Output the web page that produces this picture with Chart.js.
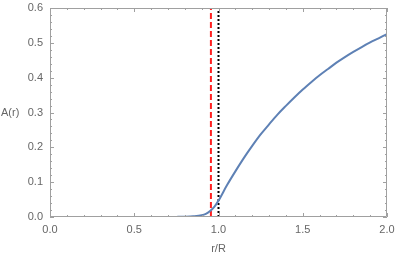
<!DOCTYPE html>
<html>
<head>
<meta charset="utf-8">
<script src="https://cdn.jsdelivr.net/npm/chart.js@4/dist/chart.umd.min.js"></script>
<style>
  html, body { margin: 0; padding: 0; background: #fff; }
  #wrap { width: 397px; height: 260px; }
</style>
</head>
<body>
<div id="wrap"><canvas id="myChart"></canvas></div>
<script>
// r/R sample points and A(r)
var rValues = [0, 0.05, 0.1, 0.15, 0.2, 0.25, 0.3, 0.35, 0.4, 0.45, 0.5, 0.55, 0.6, 0.65, 0.7,
  0.75, 0.8, 0.85, 0.9, 0.925, 0.95, 0.975, 1.0, 1.05, 1.1, 1.15, 1.2, 1.25, 1.3, 1.35, 1.4, 1.45,
  1.5, 1.55, 1.6, 1.65, 1.7, 1.75, 1.8, 1.85, 1.9, 1.95, 2.0];
var aValues = [0, 0, 0, 0, 0, 0, 0, 0, 0, 0, 0, 0, 0, 0, 0,
  0.0003, 0.0008, 0.002, 0.005, 0.009, 0.017, 0.029, 0.047, 0.091, 0.131, 0.169, 0.204, 0.237, 0.266, 0.294, 0.319, 0.343,
  0.366, 0.387, 0.407, 0.425, 0.443, 0.459, 0.474, 0.488, 0.501, 0.513, 0.525];

// vertical marker lines
var redLineX = 0.955;
var dotLineX = 1.0;

// ticks
var xMajor = [0, 0.5, 1.0, 1.5, 2.0];
var xMinor = [0.1, 0.2, 0.3, 0.4, 0.6, 0.7, 0.8, 0.9, 1.1, 1.2, 1.3, 1.4, 1.6, 1.7, 1.8, 1.9];
var yMajor = [0, 0.1, 0.2, 0.3, 0.4, 0.5, 0.6];
var yMinor = [0.02, 0.04, 0.06, 0.08, 0.12, 0.14, 0.16, 0.18, 0.22, 0.24, 0.26, 0.28,
  0.32, 0.34, 0.36, 0.38, 0.42, 0.44, 0.46, 0.48, 0.52, 0.54, 0.56, 0.58];

var frameColor = '#a0a0a0';
var labelColor = '#666666';
var fontFamily = '"Liberation Sans", Arial, sans-serif';

var curve = rValues.map(function (r, i) { return { x: r, y: aValues[i] }; });

// frame with inward ticks on all four sides, plus horizontal y title
var framePlugin = {
  id: 'frame',
  afterDatasetsDraw: function (chart) {
    var ctx = chart.ctx;
    var a = chart.chartArea;
    var xs = chart.scales.x, ys = chart.scales.y;
    ctx.save();
    ctx.strokeStyle = frameColor;
    ctx.lineWidth = 1;
    ctx.beginPath();
    ctx.rect(a.left + 0.5, a.top + 0.5, a.right - a.left - 1, a.bottom - a.top - 1);
    ctx.stroke();

    function xTick(v, len) {
      var px = Math.round(xs.getPixelForValue(v)) + 0.5;
      ctx.moveTo(px, a.bottom); ctx.lineTo(px, a.bottom - len);
      ctx.moveTo(px, a.top); ctx.lineTo(px, a.top + len);
    }
    function yTick(v, len) {
      var py = Math.round(ys.getPixelForValue(v)) + 0.5;
      ctx.moveTo(a.left, py); ctx.lineTo(a.left + len, py);
      ctx.moveTo(a.right, py); ctx.lineTo(a.right - len, py);
    }
    ctx.beginPath();
    xMajor.forEach(function (v) { xTick(v, 4); });
    xMinor.forEach(function (v) { xTick(v, 2); });
    yMajor.forEach(function (v) { yTick(v, 4); });
    yMinor.forEach(function (v) { yTick(v, 2); });
    ctx.stroke();

    ctx.fillStyle = labelColor;
    ctx.font = '11px ' + fontFamily;
    ctx.textAlign = 'left';
    ctx.textBaseline = 'middle';
    ctx.fillText('A(r)', 1, ys.getPixelForValue(0.3));
    ctx.restore();
  }
};

new Chart(document.getElementById('myChart'), {
  type: 'line',
  data: {
    datasets: [
      {
        label: 'A(r)',
        data: curve,
        borderColor: '#5e81b5',
        borderWidth: 2,
        pointRadius: 0,
        cubicInterpolationMode: 'monotone',
        fill: false
      },
      {
        label: 'red',
        data: [{ x: redLineX, y: 0 }, { x: redLineX, y: 0.6 }],
        borderColor: '#ff2020',
        borderWidth: 2,
        borderDash: [6, 3],
        pointRadius: 0
      },
      {
        label: 'dot',
        data: [{ x: dotLineX, y: 0 }, { x: dotLineX, y: 0.6 }],
        borderColor: '#000000',
        borderWidth: 2,
        borderDash: [2, 2],
        pointRadius: 0
      }
    ]
  },
  options: {
    responsive: true,
    maintainAspectRatio: false,
    animation: false,
    layout: { padding: { left: 0, right: 10, top: 8, bottom: 0 } },
    plugins: {
      legend: { display: false },
      tooltip: { enabled: false }
    },
    scales: {
      x: {
        type: 'linear',
        min: 0,
        max: 2,
        afterFit: function (s) {
          s.height = 43;
          s.paddingLeft = 0; s.paddingRight = 0;
        },
        afterBuildTicks: function (s) { s.ticks = xMajor.map(function (v) { return { value: v }; }); },
        grid: { display: false, drawTicks: false },
        border: { display: false },
        ticks: {
          color: labelColor,
          font: { family: fontFamily, size: 11 },
          padding: 6,
          maxRotation: 0,
          callback: function (v) { return v.toFixed(1); }
        },
        title: {
          display: true,
          text: 'r/R',
          color: labelColor,
          font: { family: fontFamily, size: 11 },
          padding: { top: 0, bottom: 4 }
        }
      },
      y: {
        type: 'linear',
        min: 0,
        max: 0.6,
        afterFit: function (s) {
          s.width = 50;
          s.paddingTop = 0; s.paddingBottom = 0;
        },
        afterBuildTicks: function (s) { s.ticks = yMajor.map(function (v) { return { value: v }; }); },
        grid: { display: false, drawTicks: false },
        border: { display: false },
        ticks: {
          color: labelColor,
          font: { family: fontFamily, size: 11 },
          padding: 7,
          callback: function (v) { return v.toFixed(1); }
        }
      }
    }
  },
  plugins: [framePlugin]
});
</script>
</body>
</html>
